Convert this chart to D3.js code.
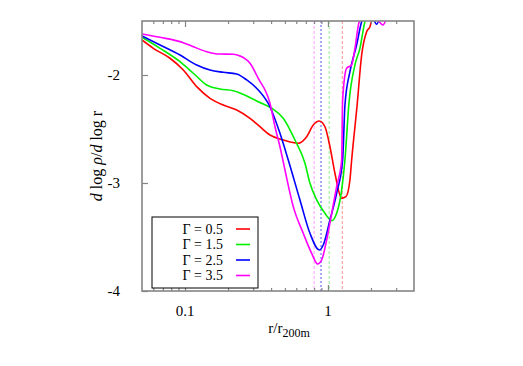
<!DOCTYPE html>
<html>
<head>
<meta charset="utf-8">
<script src="https://cdn.jsdelivr.net/npm/d3@7"></script>
<style>
  body { margin: 0; background: #fff; }
</style>
</head>
<body>
<div id="chart"></div>
<script>
// Data: [r / r200m, d log rho / d log r]
const gamma05 = [
    [0.050, -1.676], [0.060, -1.753], [0.0785, -1.845], [0.0973, -1.954], [0.1207, -2.108],
    [0.1496, -2.216], [0.1853, -2.278], [0.2299, -2.324], [0.2848, -2.401], [0.3345, -2.479],
    [0.3929, -2.556], [0.4867, -2.602], [0.6198, -2.632], [0.7096, -2.571], [0.7894, -2.463],
    [0.8692, -2.426], [0.9528, -2.479], [1.033, -2.664], [1.119, -2.910], [1.247, -3.142],
    [1.336, -3.127], [1.425, -2.972], [1.465, -2.787], [1.60, -2.278], [1.721, -1.815],
    [1.865, -1.599], [1.967, -1.553], [2.021, -1.500], [2.15, -1.42]
];
const gamma15 = [
    [0.050, -1.651], [0.0669, -1.753], [0.0923, -1.877], [0.1143, -1.984], [0.1418, -2.093],
    [0.1757, -2.130], [0.2177, -2.145], [0.2701, -2.194], [0.3255, -2.247], [0.4039, -2.308],
    [0.4867, -2.401], [0.5876, -2.602], [0.6906, -2.817], [0.7485, -3.003], [0.8338, -3.157],
    [0.9528, -3.281], [1.062, -3.349], [1.150, -3.281], [1.247, -3.065], [1.315, -2.787],
    [1.405, -2.250], [1.545, -1.907], [1.674, -1.753], [1.814, -1.506], [2.0, -1.40]
];
const gamma25 = [
    [0.050, -1.639], [0.0669, -1.722], [0.0923, -1.815], [0.1207, -1.907], [0.1496, -1.954],
    [0.1853, -1.975], [0.2299, -1.991], [0.2701, -2.046], [0.3255, -2.139], [0.3929, -2.294],
    [0.4616, -2.540], [0.5277, -2.787], [0.6370, -3.157], [0.7485, -3.466], [0.8692, -3.620],
    [0.9271, -3.574], [1.033, -3.343], [1.150, -3.095], [1.267, -2.787], [1.315, -2.278],
    [1.425, -1.969], [1.587, -1.722], [1.721, -1.506], [1.95, -1.40], [2.191, -1.53], [2.35, -1.42]
];
const gamma35 = [
    [0.050, -1.620], [0.0669, -1.651], [0.0973, -1.701], [0.1143, -1.738], [0.1418, -1.784],
    [0.1757, -1.806], [0.2177, -1.808], [0.2424, -1.824], [0.2848, -1.892], [0.3255, -2.031],
    [0.3929, -2.262], [0.4261, -2.479], [0.4616, -2.664], [0.5004, -2.880], [0.5720, -3.219],
    [0.6719, -3.466], [0.7691, -3.651], [0.8471, -3.750], [0.9036, -3.713], [0.9793, -3.528],
    [1.062, -3.281], [1.150, -3.034], [1.247, -2.787], [1.267, -2.231], [1.351, -1.938],
    [1.465, -1.907], [1.545, -1.753], [1.656, -1.506], [2.0, -1.40], [2.425, -1.537], [2.6, -1.45]
];

const seriesLabels = ["\u0393 = 0.5", "\u0393 = 1.5", "\u0393 = 2.5", "\u0393 = 3.5"];
const seriesColors = ["#ff0000", "#00f000", "#0000ff", "#ff00ff"];
const seriesData = [gamma05, gamma15, gamma25, gamma35];

// position of the dashed markers (r / r200m), one per series
const markerR = [1.26, 1.02, 0.894, 0.80];
const markerColors = ["#ff9090", "#90ee90", "#a8a8ff", "#ff9cff"];

const xTicks = [0.1, 1];
const xTickLabels = ["0.1", "1"];
const xMinorTicks = [0.06, 0.07, 0.08, 0.09, 0.2, 0.3, 0.4, 0.5, 0.6, 0.7, 0.8, 0.9, 2, 3];
const yTicks = [-2, -3, -4];

const width = 523,
      height = 366;
const plot = { left: 142, right: 414, top: 21, bottom: 291 };
const serif = "'Liberation Serif', 'Times New Roman', 'DejaVu Serif', serif";

let svg = d3.select("#chart")
            .append("svg")
            .attr("width", width)
            .attr("height", height)
            .attr("font-family", serif)
            .style("font-family", serif)
            .style("display", "block");

const x = d3.scaleLog().domain([0.05, 4]).range([plot.left, plot.right]);
const y = d3.scaleLinear().domain([-4, -1.5]).range([plot.bottom, plot.top]);

svg.append("defs")
   .append("clipPath")
   .attr("id", "plotClip")
   .append("rect")
   .attr("x", plot.left)
   .attr("y", plot.top)
   .attr("width", plot.right - plot.left)
   .attr("height", plot.bottom - plot.top);

const frameColor = "#858585";

// dashed vertical markers
svg.append("g")
   .selectAll("line")
   .data(markerR)
   .join("line")
   .attr("x1", d => x(d))
   .attr("x2", d => x(d))
   .attr("y1", plot.top)
   .attr("y2", plot.bottom)
   .attr("stroke", (d, i) => markerColors[i])
   .attr("stroke-width", (d, i) => i === 2 ? 2 : 1)
   .attr("stroke-dasharray", (d, i) => i === 2 ? "2,2" : "3,2");

// curves
const line = d3.line()
               .x(d => x(d[0]))
               .y(d => y(d[1]))
               .curve(d3.curveMonotoneX);

svg.append("g")
   .attr("clip-path", "url(#plotClip)")
   .selectAll("path")
   .data(seriesData)
   .join("path")
   .attr("d", line)
   .attr("fill", "none")
   .attr("stroke", (d, i) => seriesColors[i])
   .attr("stroke-width", 1.6)
   .attr("stroke-linejoin", "round");

/**
 * Axes: gnuplot style, ticks pointing inwards on bottom, top and left.
 */
const bottomAxis = d3.axisBottom(x).tickValues(xTicks).tickSize(-6).tickFormat("");
const bottomMinor = d3.axisBottom(x).tickValues(xMinorTicks).tickSize(-3).tickFormat("");
const topAxis = d3.axisTop(x).tickValues(xTicks).tickSize(-6).tickFormat("");
const topMinor = d3.axisTop(x).tickValues(xMinorTicks).tickSize(-3).tickFormat("");
const leftAxis = d3.axisLeft(y).tickValues(yTicks).tickSize(-6).tickFormat("");

const axisGroups = [
    svg.append("g").attr("transform", `translate(0,${plot.bottom})`).call(bottomAxis),
    svg.append("g").attr("transform", `translate(0,${plot.bottom})`).call(bottomMinor),
    svg.append("g").attr("transform", `translate(0,${plot.top})`).call(topAxis),
    svg.append("g").attr("transform", `translate(0,${plot.top})`).call(topMinor),
    svg.append("g").attr("transform", `translate(${plot.left},0)`).call(leftAxis)
];
axisGroups.forEach(g => {
    g.select(".domain").remove();
    g.selectAll(".tick line").attr("stroke", frameColor).attr("stroke-width", 1.2);
});

// frame
svg.append("rect")
   .attr("x", plot.left)
   .attr("y", plot.top)
   .attr("width", plot.right - plot.left)
   .attr("height", plot.bottom - plot.top)
   .attr("fill", "none")
   .attr("stroke", frameColor)
   .attr("stroke-width", 1.6);

// tick labels
svg.append("g")
   .selectAll("text")
   .data(xTicks)
   .join("text")
   .attr("x", d => x(d))
   .attr("y", plot.bottom + 25)
   .attr("text-anchor", "middle")
   .attr("font-size", 15)
   .text((d, i) => xTickLabels[i]);

svg.append("g")
   .selectAll("text")
   .data(yTicks)
   .join("text")
   .attr("x", plot.left - 22)
   .attr("y", d => y(d) + 5)
   .attr("text-anchor", "end")
   .attr("font-size", 15)
   .text(d => d);

// axis titles
let xTitle = svg.append("text")
                .attr("x", 289)
                .attr("y", plot.bottom + 42)
                .attr("text-anchor", "middle")
                .attr("font-size", 15);
xTitle.append("tspan").text("r/r");
xTitle.append("tspan").attr("dy", 4).attr("font-size", 12).text("200m");

let yTitle = svg.append("text")
                .attr("transform", `translate(102,${(plot.top + plot.bottom) / 2}) rotate(-90)`)
                .attr("text-anchor", "middle")
                .attr("font-size", 16);
yTitle.append("tspan").attr("font-style", "italic").text("d");
yTitle.append("tspan").text(" log ");
yTitle.append("tspan").attr("font-style", "italic").text("\u03c1");
yTitle.append("tspan").text("/");
yTitle.append("tspan").attr("font-style", "italic").text("d");
yTitle.append("tspan").text(" log r");

// legend
const legend = { left: 152, top: 217, width: 106, height: 71, rowStep: 15.5 };
svg.append("rect")
   .attr("x", legend.left)
   .attr("y", legend.top)
   .attr("width", legend.width)
   .attr("height", legend.height)
   .attr("fill", "#fff")
   .attr("stroke", "#000")
   .attr("stroke-width", 1);

let rows = svg.append("g")
              .selectAll("g")
              .data(seriesLabels)
              .join("g")
              .attr("transform", (d, i) => `translate(0,${legend.top + 12 + i * legend.rowStep})`);
rows.append("text")
    .attr("x", legend.left + 71)
    .attr("y", 4.5)
    .attr("text-anchor", "end")
    .attr("font-size", 14)
    .text(d => d);
rows.append("line")
    .attr("x1", legend.left + 84)
    .attr("x2", legend.left + 98)
    .attr("y1", 0)
    .attr("y2", 0)
    .attr("stroke", (d, i) => seriesColors[i])
    .attr("stroke-width", 1.6);
</script>
</body>
</html>
